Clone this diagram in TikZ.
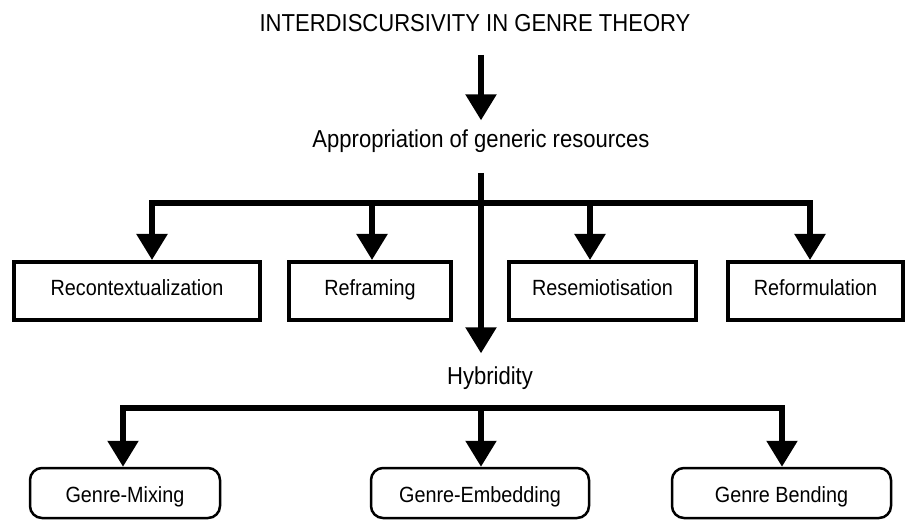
\documentclass[tikz,border=0pt]{standalone}
\usepackage{fontspec}
\setmainfont{Liberation Sans}
\newfontfamily\narrowsans[FakeStretch=0.9]{Liberation Sans}
\usetikzlibrary{arrows.meta}

\tikzset{
  heading/.style={inner sep=0pt, text height=16pt, text depth=5pt,
    font=\narrowsans\fontsize{24.5}{28}\selectfont},
  stage/.style={draw, line width=4pt, minimum height=58pt, inner sep=0pt,
    text height=16pt, text depth=8pt, font=\narrowsans\fontsize{22}{26}\selectfont},
  kind/.style={draw, line width=2.5pt, rounded corners=12pt, minimum height=50pt,
    inner sep=0pt, text height=18pt, text depth=0pt,
    font=\narrowsans\fontsize{22}{26}\selectfont},
  flow/.style={line width=5.5pt, -{Triangle[width=30pt,length=26pt]}},
  bar/.style={line width=5.5pt, line cap=rect},
}

\begin{document}
\begin{tikzpicture}[x=1pt, y=-1pt]
\useasboundingbox (0,0) rectangle (907,521);

    % headings begin
    \node[heading] (theory) at (475,26.5) {INTERDISCURSIVITY IN GENRE THEORY};
    \node[heading] (approp) at (481,142.5) {Appropriation of generic resources};
    \node[heading] (hybrid) at (490,378.5) {Hybridity};
    % headings end

\node[stage, minimum width=246pt] (recon) at (137,291) {Recontextualization};
\node[stage, minimum width=162pt] (refram) at (370,291) {Reframing};
\node[stage, minimum width=187pt] (resem) at (602.5,291) {Resemiotisation};
\node[stage, minimum width=175pt] (reform) at (815.5,291) {Reformulation};

\node[kind, minimum width=190pt] (mixing) at (125,493) {Genre-Mixing};
\node[kind, minimum width=218pt] (embed) at (480,493) {Genre-Embedding};
\node[kind, minimum width=219pt] (bending) at (781.5,493) {Genre Bending};

\coordinate (s1) at (481,55);
\coordinate (s2) at (481,173);
\coordinate (a1) at (152,203);
\coordinate (a2) at (372,203);
\coordinate (a3) at (590,203);
\coordinate (a4) at (810,203);
\coordinate (h1) at (123,408);
\coordinate (h2) at (481,408);
\coordinate (h3) at (782,408);

\draw[flow, shorten >=11.5pt] (s1) -- (s1 |- approp.north);
\draw[flow, shorten >=14.5pt] (s2) -- (s2 |- hybrid.north);

\draw[bar] (a1) -- (a4);
\foreach \c/\n in {a1/recon, a2/refram, a3/resem, a4/reform}
    \draw[flow] (\c) -- (\c |- \n.north);

\draw[bar] (h1) -- (h3);
\foreach \c/\n in {h1/mixing, h2/embed, h3/bending}
    \draw[flow] (\c) -- (\c |- \n.north);

\end{tikzpicture}
\end{document}
